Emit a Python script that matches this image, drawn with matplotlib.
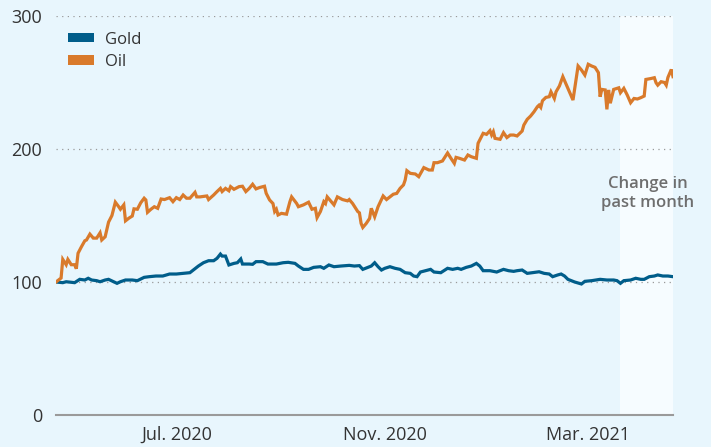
import matplotlib
matplotlib.use("Agg")
import matplotlib.pyplot as plt
import matplotlib.dates as mdates
from matplotlib.patches import Patch
import pandas as pd

plt.rcParams['font.family'] = ['Open Sans', 'DejaVu Sans']

# index, first day = 100; positions are days since start_date
start_date = pd.Timestamp('2020-04-21')
end_date = pd.Timestamp('2021-04-20')
past_month_start = pd.Timestamp('2021-03-20')

oil_day = [0, 3, 4, 6, 7, 9, 11, 12, 13, 15, 17, 18, 20, 22, 24, 26, 27, 29, 31, 33,
           35, 37, 38, 40, 41, 43, 45, 46, 48, 50, 52, 53, 54, 56, 58, 60, 62, 64, 67, 69,
           71, 73, 75, 77, 79, 82, 83, 85, 89, 90, 93, 95, 97, 98, 100, 102, 103, 105, 108, 110,
           112, 114, 116, 118, 120, 123, 124, 126, 128, 129, 130, 131, 133, 136, 138, 139, 142, 143, 146, 149,
           151, 153, 154, 156, 158, 159, 160, 162, 164, 166, 169, 172, 173, 175, 178, 179, 180, 181, 183, 185,
           186, 188, 190, 193, 195, 197, 199, 201, 203, 205, 206, 207, 209, 212, 214, 216, 217, 220, 222, 223,
           225, 228, 229, 231, 233, 235, 236, 238, 241, 243, 245, 248, 249, 250, 252, 254, 256, 257, 258, 259,
           262, 264, 266, 268, 270, 272, 275, 276, 278, 280, 282, 284, 285, 286, 287, 289, 291, 292, 294, 295,
           297, 299, 302, 305, 308, 310, 312, 314, 316, 318, 320, 321, 322, 324, 325, 326, 327, 329, 332, 333,
           335, 337, 339, 341, 343, 345, 347, 348, 351, 353, 354, 355, 357, 359, 360, 361, 363, 364]
oil = [100, 103, 117, 113, 117, 113, 113, 110, 121.6, 126.5, 131, 131.6, 136, 133, 133, 137, 131.6, 134, 145, 150,
       160, 156.6, 154.7, 158, 146, 148, 149.6, 155, 154.7, 159.6, 163, 161.7, 152.4, 154.7, 156.6, 155.4, 162.4, 162, 163.4, 160.4,
       163.4, 162, 165.4, 163, 163, 167.4, 164, 164, 164.7, 162, 165.4, 168, 170.4, 168, 170.4, 168.6, 171.7, 169.7, 171.7, 172,
       168, 170.4, 173.5, 170, 171, 172, 166.7, 161.7, 159, 153, 154.7, 150.4, 151.6, 151, 160.4, 164, 159, 156.6, 158, 160,
       154.7, 155.4, 148.4, 153, 160.4, 159, 164, 161, 158, 164, 162, 161, 162, 159, 153, 152, 144, 141, 144, 147.8,
       155.4, 149, 156.6, 164.7, 162, 164, 166, 166.6, 170.4, 173, 176.7, 183.7, 181.7, 181.2, 179.2, 183.7, 186, 184.2, 184.2, 189.7,
       189.7, 191, 193, 197, 193, 189.2, 193.7, 193, 191.7, 195.5, 194.2, 193, 204.3, 206.8, 211.8, 211, 213.8, 210.5, 213, 208,
       207.3, 212.3, 208.6, 210.5, 210.5, 209.8, 213.5, 218, 222.3, 224.8, 228, 231.8, 233, 231.3, 236.3, 238.8, 239.3, 243, 238, 243,
       247.4, 254.4, 245.6, 236.8, 262.4, 259.4, 255.6, 263.7, 262.4, 261.4, 257.4, 239.3, 244.8, 244.4, 229.8, 244.4, 234.4, 244.8, 246, 242.3,
       245.6, 240.6, 234.8, 238, 237.6, 238.6, 239.8, 252.3, 253, 253.6, 249.8, 248, 250.6, 250, 248, 253.8, 259.8, 254.4]

gold_day = [0, 4, 6, 11, 14, 17, 19, 21, 24, 26, 29, 31, 33, 36, 38, 41, 45, 48, 52, 55,
            59, 63, 67, 71, 75, 79, 81, 84, 87, 90, 93, 95, 97, 98, 100, 102, 105, 107, 109, 110,
            114, 116, 118, 122, 125, 130, 134, 137, 141, 143, 146, 149, 152, 156, 158, 161, 164, 168, 173, 176,
            179, 181, 184, 186, 188, 190, 192, 194, 197, 200, 203, 206, 209, 211, 213, 215, 218, 221, 223, 227,
            231, 234, 237, 239, 242, 245, 248, 250, 252, 256, 260, 264, 267, 270, 272, 275, 278, 281, 285, 288,
            291, 293, 296, 298, 300, 302, 304, 306, 310, 312, 316, 321, 325, 329, 331, 333, 335, 339, 342, 345,
            347, 350, 353, 355, 358, 361, 364]
gold = [100, 99.5, 100.2, 99.5, 102, 101.5, 102.8, 101.5, 101, 100.2, 101.5, 102, 100.8, 99, 100.2, 101.5, 101.5, 101, 103.5, 104,
        104.5, 104.5, 106, 106, 106.5, 107, 109, 112, 114.5, 116, 116, 117.8, 121, 119.5, 119.5, 112.8, 114, 114.5, 117.3, 113.5,
        113.5, 113.3, 115.3, 115.3, 113.5, 113.5, 114.5, 114.8, 114, 112, 109.5, 109.5, 111, 111.5, 110.3, 112.8, 111.5, 112, 112.5, 112,
        112.3, 109.5, 111, 112, 114.5, 111.5, 109, 110.3, 111.5, 110.3, 109.5, 107, 106.5, 104.5, 104, 107.5, 108.5, 109.5, 107.5, 107,
        110.3, 109.5, 110.3, 109.5, 111, 112, 114, 112, 108.5, 108.5, 107.5, 109.5, 108.5, 108, 108.5, 109, 106.5, 107, 107.7, 106.5,
        106, 104, 105.3, 106, 104.5, 102, 101, 100, 98.5, 100.5, 101, 102, 101.5, 101.5, 101, 99, 101, 101.5, 102.8, 102,
        102, 104, 104.5, 105.3, 104.5, 104.5, 104]

y_ticks = [0, 100, 200, 300]
x_ticks = ['2020-07-01', '2020-11-01', '2021-03-01']

gold_color = '#005d8a'
oil_color = '#d97a2b'
bg_color = '#e8f6fd'
text_color = '#333333'

oil_dates = start_date + pd.to_timedelta(oil_day, unit='D')
gold_dates = start_date + pd.to_timedelta(gold_day, unit='D')

fig = plt.figure(figsize=(7.11, 4.47), dpi=100, facecolor=bg_color)
ax = fig.add_axes([56 / 711, 32 / 447, 617 / 711, 399 / 447])
ax.set_facecolor(bg_color)

# shaded "past month" band
ax.axvspan(past_month_start, end_date, color='#f6fcff', zorder=0, lw=0)

for y in y_ticks[1:]:
    ax.axhline(y, color='#9a9a9a', lw=0.9, ls=(0, (1, 3.5)), zorder=1)

ax.plot(gold_dates, gold, color=gold_color, lw=2.3, zorder=3, solid_joinstyle='miter')
ax.plot(oil_dates, oil, color=oil_color, lw=2.3, zorder=3, solid_joinstyle='miter')

ax.set_xlim(start_date, end_date)
ax.set_ylim(0, 300)
ax.set_yticks(y_ticks)
ax.set_xticks(pd.to_datetime(x_ticks))
ax.xaxis.set_major_formatter(mdates.DateFormatter('%b. %Y'))
ax.tick_params(axis='both', length=0, labelsize=13, colors=text_color)
ax.tick_params(axis='y', pad=10)
ax.tick_params(axis='x', pad=8)

for side in ['top', 'right', 'left']:
    ax.spines[side].set_visible(False)
ax.spines['bottom'].set_color('#9a9a9a')
ax.spines['bottom'].set_linewidth(1.5)
ax.spines['bottom'].set_zorder(2)

ax.text(pd.Timestamp('2021-04-05'), 166.5, 'Change in\npast month', ha='center', va='center',
        fontsize=12, color='#6e6e6e', fontweight='semibold', linespacing=1.25)

handles = [Patch(facecolor=gold_color, label='Gold'), Patch(facecolor=oil_color, label='Oil')]
leg = ax.legend(handles=handles, loc='upper left', bbox_to_anchor=(0.0, 0.99), frameon=False,
                fontsize=12, handlelength=1.6, handleheight=0.5, handletextpad=0.65,
                labelspacing=0.38, borderaxespad=0.3)
for t in leg.get_texts():
    t.set_color(text_color)

fig.savefig('out.png', dpi=100, facecolor=bg_color)
